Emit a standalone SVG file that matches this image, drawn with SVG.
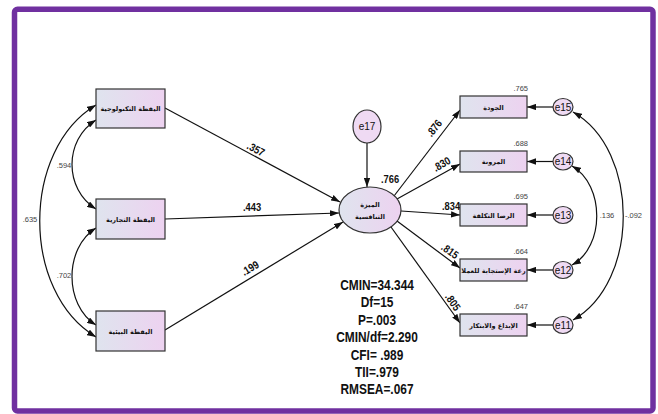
<svg xmlns="http://www.w3.org/2000/svg" width="658" height="414" viewBox="0 0 658 414">
<defs>
<linearGradient id="gBox" x1="0" y1="0" x2="1" y2="0">
<stop offset="0" stop-color="#dfe4ee"/>
<stop offset="1" stop-color="#edd2f0"/>
</linearGradient>
<marker id="ah" viewBox="0 0 10 7" refX="10" refY="3.5" markerWidth="9" markerHeight="6.3" markerUnits="userSpaceOnUse" orient="auto-start-reverse"><path d="M0,0 L10,3.5 L0,7 z" fill="#111"/></marker>
<clipPath id="clip4"><rect x="460" y="259" width="67" height="22"/></clipPath>
<style>
.box{fill:url(#gBox);stroke:#333;stroke-width:1.2}
.err{fill:#efdaf3;stroke:#333;stroke-width:1.2}
.ar{font-family:"DejaVu Sans",sans-serif;font-size:6.5px;font-weight:bold;fill:#111;text-anchor:middle}
.en{font-family:"Liberation Sans",Arial,sans-serif;font-size:10px;fill:#111;text-anchor:middle}
.coef{font-family:"Liberation Sans",Arial,sans-serif;font-size:11px;font-weight:bold;fill:#111;text-anchor:middle}
.sm{font-family:"Liberation Sans",Arial,sans-serif;font-size:7.5px;fill:#444;text-anchor:middle}
.r2{font-family:"Liberation Sans",Arial,sans-serif;font-size:7.5px;fill:#444;text-anchor:end}
.conn path{fill:none;stroke:#111;stroke-width:1.2}
.stat{font-family:"Liberation Sans",Arial,sans-serif;font-size:14px;font-weight:bold;fill:#111;text-anchor:middle}
</style>
</defs>
<rect x="0" y="0" width="658" height="414" fill="#fff"/>
<rect x="14.5" y="9.3" width="638.5" height="401.7" rx="3" fill="none" stroke="#7030a0" stroke-width="5.5"/>

<g id="connectors" class="conn">
<path d="M165,108 L340,202" marker-end="url(#ah)"/>
<path d="M165,219 L339,213" marker-end="url(#ah)"/>
<path d="M165,330 L343,222" marker-end="url(#ah)"/>
<path d="M367,143 L367,187" marker-end="url(#ah)"/>
<path d="M394,196 L460,110" marker-end="url(#ah)"/>
<path d="M397,199 L460,164" marker-end="url(#ah)"/>
<path d="M401,211 L460,215" marker-end="url(#ah)"/>
<path d="M397,221 L460,268" marker-end="url(#ah)"/>
<path d="M391,227 L460,323" marker-end="url(#ah)"/>
<path d="M553,107 L527,107" marker-end="url(#ah)"/>
<path d="M553,161.5 L527,161.5" marker-end="url(#ah)"/>
<path d="M553,215 L527,215" marker-end="url(#ah)"/>
<path d="M553,270 L527,270" marker-end="url(#ah)"/>
<path d="M553,325 L527,325" marker-end="url(#ah)"/>
<path d="M96,120 C64,140 64,189 96,209" marker-start="url(#ah)" marker-end="url(#ah)"/>
<path d="M96,228 C64,248 64,305 96,325" marker-start="url(#ah)" marker-end="url(#ah)"/>
<path d="M96,105 C21,150 21,292 96,337" marker-start="url(#ah)" marker-end="url(#ah)"/>
<path d="M572,166 C605,185 605,247 572,265" marker-start="url(#ah)" marker-end="url(#ah)"/>
<path d="M573,112 C640,150 640,282 573,320" marker-start="url(#ah)" marker-end="url(#ah)"/>
</g>

<g id="labels">
<text class="coef" transform="translate(256,149) rotate(28) scale(0.85,1)" y="4">.357</text>
<text class="coef" transform="translate(252,207) scale(0.85,1)" y="4">.443</text>
<text class="coef" transform="translate(250,268) rotate(-31) scale(0.85,1)" y="4">.199</text>
<text class="coef" transform="translate(390,179) scale(0.85,1)" y="4">.766</text>
<text class="coef" transform="translate(434,128) rotate(-52) scale(0.85,1)" y="4">.876</text>
<text class="coef" transform="translate(441.5,164) rotate(-30) scale(0.85,1)" y="4">.830</text>
<text class="coef" transform="translate(451,205.5) scale(0.85,1)" y="4">.834</text>
<text class="coef" transform="translate(450,251) rotate(35) scale(0.85,1)" y="4">.815</text>
<text class="coef" transform="translate(453,302) rotate(55) scale(0.85,1)" y="4">.805</text>
<text class="sm" x="64" y="168">.594</text>
<text class="sm" x="64" y="278">.702</text>
<text class="sm" x="30" y="222">.635</text>
<text class="sm" x="607" y="218">.136</text>
<text class="sm" x="633.5" y="218">-.092</text>
<text class="r2" x="528" y="91">.765</text>
<text class="r2" x="528" y="146">.688</text>
<text class="r2" x="528" y="199">.695</text>
<text class="r2" x="528" y="254">.664</text>
<text class="r2" x="528" y="309">.647</text>
</g>

<g id="x1"><rect class="box" x="96" y="89" width="69" height="39"/><text class="ar" x="130.5" y="111">اليقظة التكنولوجية</text></g>
<g id="x2"><rect class="box" x="96" y="199" width="69" height="40"/><text class="ar" x="130.5" y="222">اليقظة التجارية</text></g>
<g id="x3"><rect class="box" x="96" y="311" width="69" height="40"/><text class="ar" x="130.5" y="334">اليقظة البيئية</text></g>

<g id="y"><ellipse class="box" cx="370" cy="210" rx="31" ry="23"/><text class="ar" x="370" y="207">الميزة</text><text class="ar" x="370" y="219">التنافسية</text></g>
<g id="e17"><ellipse class="err" cx="367" cy="126.5" rx="14" ry="16.5"/><text class="en" x="367" y="130">e17</text></g>

<g id="y1"><rect class="box" x="460" y="96" width="67" height="22"/><text class="ar" x="493.5" y="109.5">الجودة</text></g>
<g id="y2"><rect class="box" x="460" y="151" width="67" height="21"/><text class="ar" x="493.5" y="164">المرونة</text></g>
<g id="y3"><rect class="box" x="460" y="204" width="67" height="22"/><text class="ar" x="493.5" y="217.5">الرضا التكلفة</text></g>
<g id="y4"><rect class="box" x="460" y="259" width="67" height="22"/><text class="ar" x="493.5" y="272.5" clip-path="url(#clip4)">رعة الإستجابة للعملا</text></g>
<g id="y5"><rect class="box" x="460" y="314" width="67" height="22"/><text class="ar" x="493.5" y="327.5">الإبداع والابتكار</text></g>

<g id="e15"><ellipse class="err" cx="563" cy="107" rx="10" ry="8.5"/><text class="en" x="563" y="110.5">e15</text></g>
<g id="e14"><ellipse class="err" cx="563" cy="161.5" rx="10" ry="8.5"/><text class="en" x="563" y="165">e14</text></g>
<g id="e13"><ellipse class="err" cx="563" cy="215" rx="10" ry="8.5"/><text class="en" x="563" y="218.5">e13</text></g>
<g id="e12"><ellipse class="err" cx="563" cy="270" rx="10" ry="8.5"/><text class="en" x="563" y="273.5">e12</text></g>
<g id="e11"><ellipse class="err" cx="563" cy="325" rx="10" ry="8.5"/><text class="en" x="563" y="328.5">e11</text></g>

<g id="fit" transform="translate(377,0) scale(0.85,1)">
<text class="stat" x="0" y="290">CMIN=34.344</text>
<text class="stat" x="0" y="307.5">Df=15</text>
<text class="stat" x="0" y="325">P=.003</text>
<text class="stat" x="0" y="342.5">CMIN/df=2.290</text>
<text class="stat" x="0" y="360">CFI= .989</text>
<text class="stat" x="0" y="377">TII=.979</text>
<text class="stat" x="0" y="394.5">RMSEA=.067</text>
</g>
</svg>
